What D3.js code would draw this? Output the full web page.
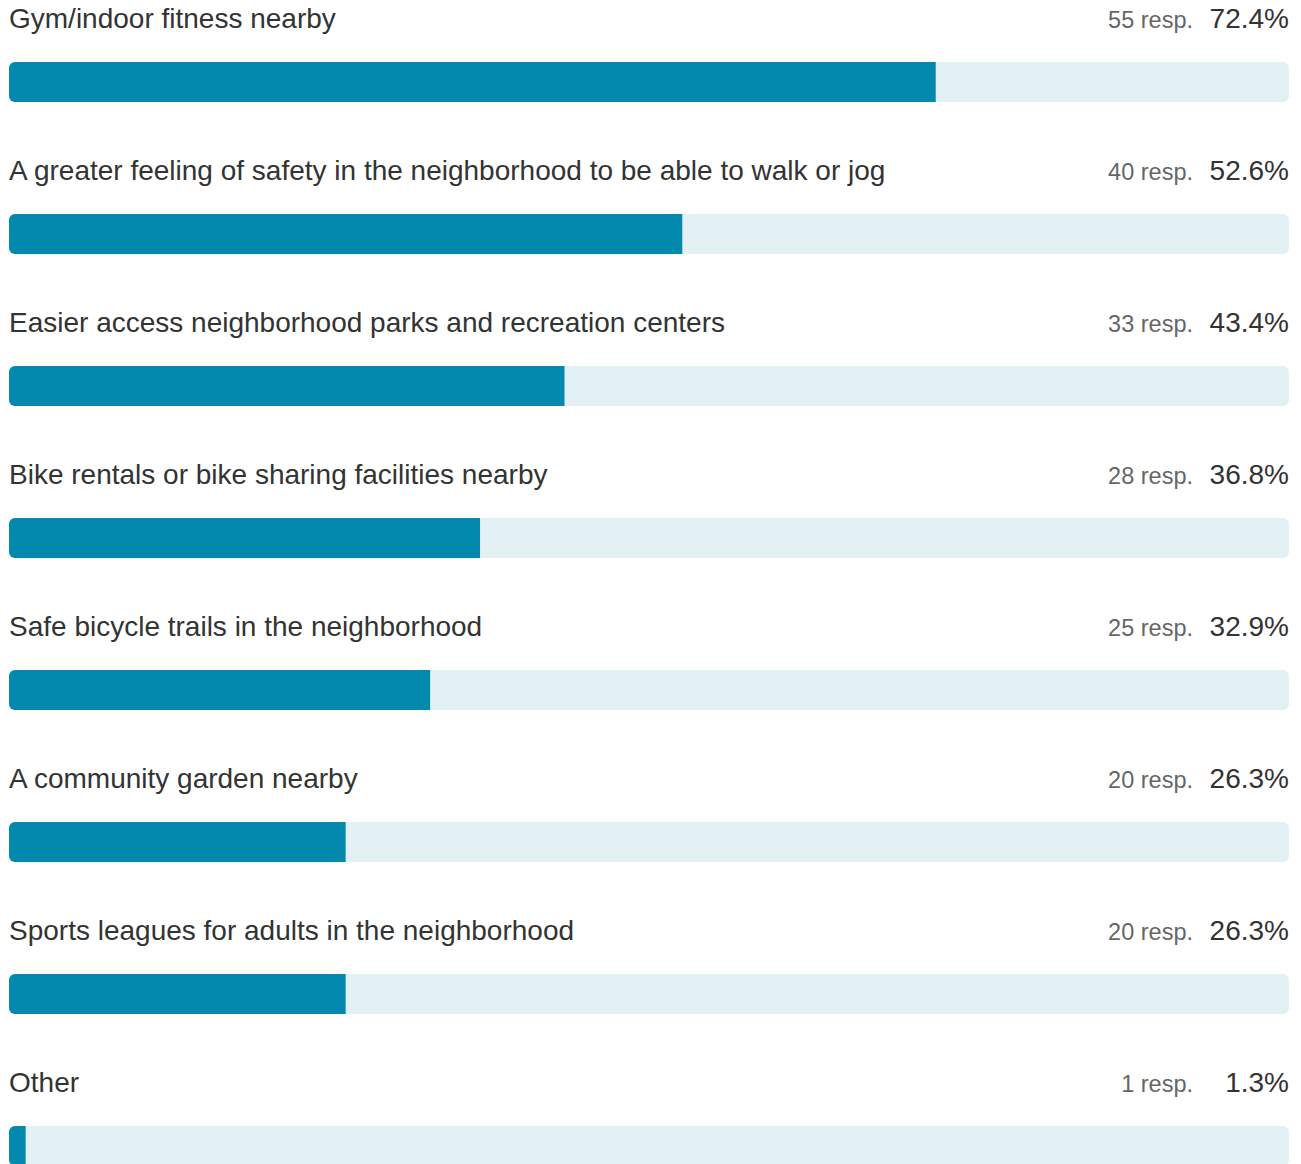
<!DOCTYPE html>
<html>
<head>
<meta charset="utf-8">
<script src="https://cdn.jsdelivr.net/npm/d3@7"></script>
<style>
  html, body { margin: 0; padding: 0; background: #ffffff; }
  svg { display: block; }
</style>
</head>
<body>
<div id="chart"></div>
<script>
// Survey responses: which amenities would help people be more active
const categories = [
  "Gym/indoor fitness nearby",
  "A greater feeling of safety in the neighborhood to be able to walk or jog",
  "Easier access neighborhood parks and recreation centers",
  "Bike rentals or bike sharing facilities nearby",
  "Safe bicycle trails in the neighborhood",
  "A community garden nearby",
  "Sports leagues for adults in the neighborhood",
  "Other"
];
const responses = [55, 40, 33, 28, 25, 20, 20, 1];
const percents = [72.4, 52.6, 43.4, 36.8, 32.9, 26.3, 26.3, 1.3];

const width = 1301, height = 1164;
const left = 9, right = 1289;
const rowPitch = 152, barTop = 62, barH = 40, radius = 6;

const x = d3.scaleLinear().domain([0, 100]).range([left, right]);
const y = d3.scaleBand().domain(d3.range(categories.length))
  .range([0, rowPitch * categories.length]).paddingInner(0).paddingOuter(0);

const svg = d3.select("#chart").append("svg")
  .attr("width", width).attr("height", height)
  .style("font-family", "'Liberation Sans', Arial, sans-serif");

const defs = svg.append("defs");

const rows = svg.selectAll("g.row")
  .data(categories.map((c, i) => ({ c, r: responses[i], p: percents[i], i })))
  .join("g").attr("class", "row")
  .attr("transform", d => `translate(0,${y(d.i)})`);

// clip each filled segment to the rounded track shape
rows.each(function (d) {
  defs.append("clipPath").attr("id", "clip" + d.i)
    .append("rect")
    .attr("x", x(0)).attr("y", y(d.i) + barTop)
    .attr("width", x(100) - x(0)).attr("height", barH)
    .attr("rx", radius).attr("ry", radius);
});

rows.append("rect")
  .attr("x", x(0)).attr("y", barTop)
  .attr("width", x(100) - x(0)).attr("height", barH)
  .attr("rx", radius).attr("ry", radius)
  .attr("fill", "#e3f1f5");

rows.append("g")
  .attr("transform", d => `translate(0,${-y(d.i)})`)
  .attr("clip-path", d => `url(#clip${d.i})`)
  .append("rect")
  .attr("x", x(0)).attr("y", d => y(d.i) + barTop)
  .attr("width", d => x(d.p) - x(0)).attr("height", barH)
  .attr("fill", "#0388ae");

rows.append("text")
  .attr("x", left).attr("y", 28)
  .attr("font-size", 28).attr("fill", "#333333")
  .text(d => d.c);

rows.append("text")
  .attr("x", 1193).attr("y", 28)
  .attr("text-anchor", "end")
  .attr("font-size", 23.5).attr("fill", "#666666")
  .text(d => `${d.r} resp.`);

rows.append("text")
  .attr("x", 1289).attr("y", 28)
  .attr("text-anchor", "end")
  .attr("font-size", 28).attr("fill", "#333333")
  .text(d => `${d.p.toFixed(1)}%`);
</script>
</body>
</html>
